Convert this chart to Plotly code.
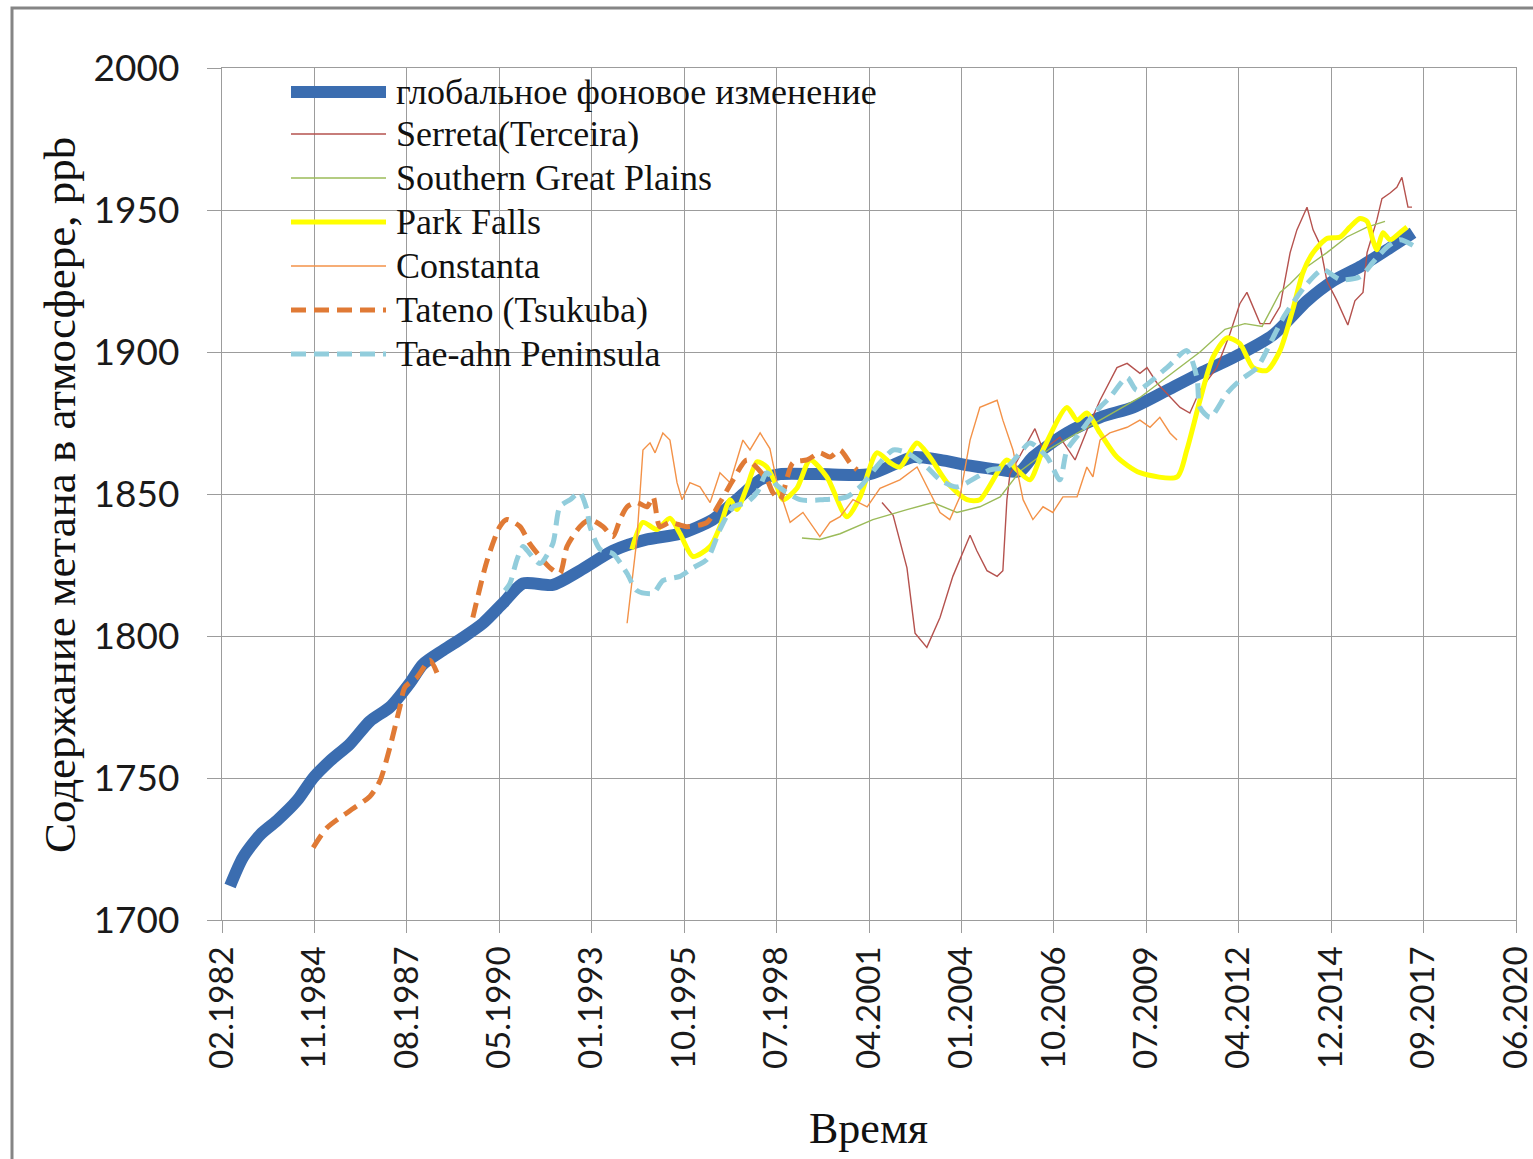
import pandas as pd
import plotly.graph_objects as go

# ---- data: decimal years and methane mixing ratio (ppb) ----
global_t = [1982.36, 1982.74, 1983.25, 1983.75, 1984.34, 1984.82, 1985.32, 1985.91, 1986.50, 1987.10,
            1987.69, 1988.07, 1988.67, 1989.26, 1989.85, 1990.44, 1991.04, 1991.92, 1992.72, 1993.70,
            1994.71, 1995.69, 1996.66, 1997.46, 1998.06, 1998.65, 1999.83, 2001.31, 2002.59, 2003.39,
            2004.28, 2005.17, 2005.76, 2006.14, 2007.15, 2008.13, 2009.11, 2010.11, 2011.09, 2012.07,
            2013.25, 2014.26, 2015.03, 2015.83, 2016.63, 2017.40]
global_v = [1712, 1722, 1730, 1735, 1742, 1750, 1756, 1762, 1770, 1775,
            1783.5, 1790, 1795, 1799.5, 1804.5, 1811.5, 1818.5, 1818, 1823, 1830,
            1834, 1836, 1841, 1849, 1855, 1857, 1857, 1857, 1863, 1862,
            1860, 1858.5, 1858, 1863, 1871.5, 1877, 1880.5, 1886.5, 1892.5, 1898,
            1906, 1918, 1925, 1930, 1936, 1942]

serreta_t = [2001.67, 2002.00, 2002.41, 2002.65, 2003.00, 2003.39, 2003.77, 2003.98, 2004.28, 2004.48,
             2004.78, 2005.08, 2005.25, 2005.37, 2005.46, 2005.85, 2006.20, 2006.44, 2006.94, 2007.39,
             2007.83, 2008.13, 2008.63, 2008.93, 2009.31, 2009.52, 2009.82, 2010.50, 2010.79, 2011.09,
             2011.59, 2011.98, 2012.27, 2012.48, 2012.66, 2012.87, 2013.16, 2013.46, 2013.76, 2013.96,
             2014.26, 2014.44, 2014.64, 2014.85, 2015.15, 2015.47, 2015.68, 2015.92, 2016.04, 2016.33,
             2016.48, 2016.72, 2016.92, 2017.07, 2017.25, 2017.37]
serreta_v = [1847, 1842.5, 1824, 1801, 1796, 1806.5, 1821, 1827, 1835.5, 1830,
             1823, 1821, 1823, 1848, 1857, 1865.5, 1873, 1865.5, 1870, 1862,
             1875, 1883, 1894.5, 1896, 1892.5, 1894.5, 1889, 1880.5, 1878.5, 1886.5,
             1894.5, 1906.5, 1917, 1921, 1916, 1910, 1910, 1916, 1935, 1943,
             1951, 1943, 1938, 1925, 1918, 1909.5, 1918, 1921, 1935, 1946.5,
             1954, 1956, 1958, 1961.5, 1951, 1951]

sgp_t = [1999.30, 1999.83, 2000.43, 2001.40, 2002.41, 2003.18, 2003.89, 2004.57, 2005.17, 2005.76,
         2006.65, 2007.53, 2008.42, 2009.31, 2010.20, 2011.09, 2011.83, 2012.42, 2012.93, 2013.46,
         2013.76, 2014.26, 2014.85, 2015.44, 2016.04, 2016.57]
sgp_v = [1834.5, 1834, 1836, 1841, 1844.5, 1847, 1843.5, 1845.5, 1849, 1858,
         1866, 1872, 1878, 1884, 1892, 1900, 1908, 1910, 1909, 1921,
         1924, 1930, 1935, 1940.5, 1944, 1946]

park_t = [1994.26, 1994.59, 1995.00, 1995.39, 1995.69, 1996.07, 1996.58, 1996.87, 1997.17, 1997.37,
          1997.67, 1997.97, 1998.26, 1998.56, 1998.74, 1999.15, 1999.54, 2000.04, 2000.63, 2001.02,
          2001.52, 2001.91, 2002.20, 2002.71, 2003.09, 2003.60, 2004.19, 2004.57, 2005.37, 2005.67,
          2006.05, 2006.44, 2007.15, 2007.45, 2007.74, 2008.13, 2008.63, 2009.31, 2010.41, 2010.70,
          2011.09, 2011.47, 2011.89, 2012.27, 2012.66, 2013.07, 2013.46, 2013.84, 2014.14, 2014.44,
          2014.85, 2015.24, 2015.53, 2015.83, 2016.04, 2016.21, 2016.33, 2016.51, 2016.72, 2017.01,
          2017.22]
park_v = [1830.5, 1840, 1837.5, 1841.5, 1836, 1828, 1831.5, 1838.5, 1848, 1844.5,
          1852.5, 1861.3, 1859.5, 1852.5, 1848, 1852, 1862, 1856, 1842, 1849,
          1864.5, 1861, 1859.5, 1868, 1863, 1854, 1848, 1848, 1862, 1858.5,
          1855, 1865.5, 1880.5, 1876, 1878.5, 1871.5, 1863, 1857.5, 1856, 1865.5,
          1883, 1898, 1905, 1903, 1894.5, 1893.5, 1900.5, 1915, 1928, 1935,
          1940, 1940.5, 1944, 1947, 1946, 1939.5, 1936, 1942, 1939.5, 1942,
          1944]

constanta_t = [1994.12, 1994.41, 1994.59, 1994.80, 1994.95, 1995.18, 1995.39, 1995.60, 1995.75, 1995.98,
               1996.28, 1996.58, 1996.87, 1997.17, 1997.55, 1997.76, 1998.06, 1998.35, 1998.56, 1998.95,
               1999.33, 1999.83, 2000.13, 2000.43, 2000.81, 2001.23, 2001.61, 2002.20, 2002.71, 2003.00,
               2003.39, 2003.68, 2003.98, 2004.28, 2004.57, 2005.08, 2005.25, 2005.55, 2005.85, 2006.14,
               2006.44, 2006.73, 2007.03, 2007.45, 2007.74, 2007.92, 2008.13, 2008.42, 2008.93, 2009.31,
               2009.61, 2009.90, 2010.20, 2010.41]
constanta_v = [1804.5, 1834, 1865.5, 1868, 1864.5, 1871.5, 1869, 1854, 1848, 1854,
               1852.5, 1847, 1857.5, 1854, 1869, 1865.5, 1871.5, 1866, 1854, 1840,
               1843.5, 1835, 1840, 1842, 1848, 1845.5, 1852, 1855, 1859.5, 1852.5,
               1843.5, 1841, 1849, 1869, 1880.5, 1883, 1876, 1865.5, 1848, 1841,
               1845.5, 1843.5, 1849, 1849, 1859.5, 1856, 1869, 1871.5, 1873.5, 1876,
               1873.5, 1877, 1871.5, 1869]

tateno_t = [1984.82, 1985.23, 1985.91, 1986.50, 1986.80, 1987.10, 1987.39, 1987.54, 1987.90, 1988.28,
            1988.49, None, 1989.55, 1989.97, 1990.35, 1990.56, 1990.95, 1991.24, 1991.84, 1992.13,
            1992.34, 1992.72, 1993.02, 1993.41, 1993.70, 1993.91, 1994.12, 1994.41, 1994.71, 1994.89,
            1995.09, 1995.39, 1995.89, 1996.49, 1996.87, 1997.26, 1997.67, 1998.26, 1998.44, 1998.65,
            1999.03, 1999.45, 1999.83, 2000.13, 2000.43, 2000.72, 2000.93]
tateno_v = [1725.5, 1732.5, 1738.5, 1743.5, 1749, 1761, 1775, 1782, 1785.5, 1791.5,
            1787, None, 1806.5, 1826.5, 1838.5, 1841, 1838.5, 1832.5, 1824, 1822,
            1831.5, 1838.5, 1841, 1838.5, 1835, 1841, 1845.5, 1847, 1845.5, 1849,
            1838.5, 1840, 1838.5, 1840, 1847, 1855, 1862, 1855, 1850.5, 1848,
            1861, 1862, 1864.5, 1863, 1865.5, 1861, 1858.5]

taeahn_t = [1990.50, 1990.65, 1990.86, 1991.04, 1991.24, 1991.54, 1991.92, 1992.13, 1992.43, 1992.72,
            1992.93, 1993.02, 1993.32, 1993.70, 1994.12, 1994.41, 1994.89, 1995.18, 1995.69, 1996.07,
            1996.49, 1996.87, 1997.26, 1997.67, 1997.97, 1998.26, 1998.56, 1999.24, 1999.92, 2000.63,
            2001.02, 2001.61, 2002.00, 2002.41, 2003.00, 2003.39, 2003.89, 2004.87, 2005.37, 2005.76,
            2006.05, 2006.56, 2006.94, 2007.15, 2007.53, 2008.04, 2008.42, 2008.93, 2009.22, 2010.11,
            2010.70, 2011.00, 2011.09, 2011.39, 2011.89, 2012.27, 2012.78, 2013.25, 2013.55, 2014.26,
            2014.73, 2015.24, 2015.83, 2016.21, 2016.63, 2017.01, 2017.40]
taeahn_v = [1816, 1818.5, 1827, 1831.5, 1829, 1825.5, 1832.5, 1845.5, 1848, 1850.5,
            1844.5, 1838.5, 1830.5, 1829, 1822, 1816, 1815, 1819.5, 1821, 1824,
            1827, 1837.5, 1845.5, 1847, 1850.5, 1857.5, 1853, 1848, 1848, 1849,
            1852.5, 1861, 1865.5, 1864.5, 1859.5, 1855, 1852.5, 1858.5, 1859.5, 1864.5,
            1868, 1863, 1855, 1865.5, 1871.5, 1879.5, 1884, 1891, 1886.5, 1894.5,
            1900.5, 1891, 1880.5, 1877, 1885.5, 1890, 1894.5, 1905, 1912, 1924,
            1929, 1925.5, 1926.5, 1931.5, 1937, 1939.5, 1937.5]

series_names = ["глобальное фоновое изменение", "Serreta(Terceira)", "Southern Great Plains",
                "Park Falls", "Constanta", "Tateno (Tsukuba)", "Tae-ahn Peninsula"]

x_tick_labels = ["02.1982", "11.1984", "08.1987", "05.1990", "01.1993", "10.1995", "07.1998",
                 "04.2001", "01.2004", "10.2006", "07.2009", "04.2012", "12.2014", "09.2017", "06.2020"]
y_ticks = [1700, 1750, 1800, 1850, 1900, 1950, 2000]


def to_date(y):
    if y is None:
        return None
    yr = int(y)
    a = pd.Timestamp(yr, 1, 1)
    b = pd.Timestamp(yr + 1, 1, 1)
    return a + (b - a) * (y - yr)


def dates(ts):
    return [to_date(t) for t in ts]


# date axis with a 1000-day major unit
axis_start = pd.Timestamp("1982-02-14")
tick_dates = [axis_start + pd.Timedelta(days=1000 * k) for k in range(len(x_tick_labels))]
x_range = [tick_dates[0], tick_dates[-1]]

styles = [
    dict(color="#3B6DB0", width=12),
    dict(color="#B5524E", width=1.4),
    dict(color="#9BBB59", width=1.4),
    dict(color="#FFFF00", width=5),
    dict(color="#F39248", width=1.4),
    dict(color="#E07A35", width=5, dash="15px,8px"),
    dict(color="#92CDDC", width=5, dash="15px,8px"),
]
series = [(global_t, global_v), (serreta_t, serreta_v), (sgp_t, sgp_v), (park_t, park_v),
          (constanta_t, constanta_v), (tateno_t, tateno_v), (taeahn_t, taeahn_v)]

fig = go.Figure()
for name, (t, v), st in zip(series_names, series, styles):
    thick = st["width"] >= 5
    fig.add_trace(go.Scatter(
        x=dates(t), y=v, mode="lines", name=name, showlegend=False,
        connectgaps=False,
        line=dict(color=st["color"], width=st["width"], dash=st.get("dash", "solid"),
                  shape="spline" if thick else "linear", smoothing=0.7),
    ))

# plot-area geometry in pixels
W, H = 1533, 1159
L, R, T, B = 222, 1516, 68, 920


def px(xp):
    return (xp - L) / (R - L)


def py(yp):
    return (B - yp) / (B - T)


# legend drawn inside the plot area, without a box
legend_rows = [92, 134, 178, 222, 266, 310, 354]
for name, st, ry in zip(series_names, styles, legend_rows):
    fig.add_shape(type="line", xref="paper", yref="paper",
                  x0=px(291), x1=px(386), y0=py(ry), y1=py(ry),
                  line=dict(color=st["color"], width=st["width"],
                            dash=st.get("dash", "solid")))
    fig.add_annotation(x=px(394), y=py(ry), xref="paper", yref="paper", text=name,
                       showarrow=False, xanchor="left", yanchor="middle",
                       font=dict(family="Liberation Serif", size=36, color="#111111"))

# outer frame
fig.add_shape(type="rect", xref="paper", yref="paper", layer="below",
              x0=px(12), x1=px(1545), y0=py(8), y1=py(1175),
              line=dict(color="#858585", width=3), fillcolor="rgba(0,0,0,0)")

# axis titles
fig.add_annotation(x=px(60), y=py(495), xref="paper", yref="paper",
                   text="Содержание метана в атмосфере, ppb", textangle=-90,
                   showarrow=False, xanchor="center", yanchor="middle",
                   font=dict(family="Liberation Serif", size=45, color="#111111"))
fig.add_annotation(x=px(868), y=py(1128), xref="paper", yref="paper",
                   text="Время", showarrow=False, xanchor="center", yanchor="middle",
                   font=dict(family="Liberation Serif", size=44, color="#111111"))

grid = "#9C9C9C"
fig.update_layout(
    width=W, height=H,
    margin=dict(l=L, r=W - R, t=T, b=H - B, autoexpand=False),
    paper_bgcolor="white", plot_bgcolor="white",
    xaxis=dict(
        type="date", range=x_range,
        tickmode="array", tickvals=tick_dates, ticktext=x_tick_labels,
        tickangle=-90, ticks="outside", ticklen=12, tickcolor=grid, tickwidth=1.3,
        showgrid=True, gridcolor=grid, gridwidth=1.3,
        showline=True, linecolor=grid, linewidth=1.4, mirror=True,
        tickfont=dict(family="Lato", size=33, color="#1a1a1a"),
        ticklabelstandoff=0, ticklabeloverflow="allow", zeroline=False,
    ),
    yaxis=dict(
        range=[1700, 2000], tickmode="array", tickvals=y_ticks,
        ticks="outside", ticklen=14, tickcolor=grid, tickwidth=1.3,
        showgrid=True, gridcolor=grid, gridwidth=1.3,
        showline=True, linecolor=grid, linewidth=1.4, mirror=True,
        tickfont=dict(family="Lato", size=37, color="#1a1a1a"),
        ticklabelstandoff=20, zeroline=False,
    ),
)

fig.write_html("out.html")
